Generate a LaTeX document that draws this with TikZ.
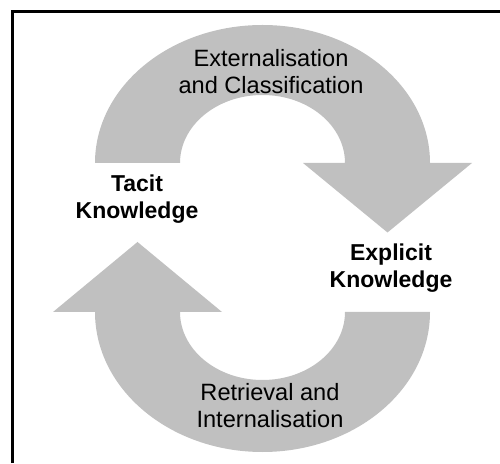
\documentclass[tikz,border=0pt]{standalone}
\usepackage{fontspec}
\setmainfont{Liberation Sans}
\definecolor{arrowgray}{RGB}{192,192,192}
\begin{document}
\begin{tikzpicture}[x=1pt,y=1pt,
  bigarrow/.style={fill=arrowgray,draw=none},
  lbl/.style={align=center,font=\fontsize{23.6}{26.7}\selectfont,inner sep=0pt,anchor=base},
  blbl/.style={lbl,font=\fontsize{23}{27.5}\selectfont\bfseries},
  frameline/.style={line width=3pt,line join=miter}]
\useasboundingbox (0,0) rectangle (500,463);
% frame (left and top lines)
\coordinate (fb) at (12.5,0);
\coordinate (fc) at (12.5,451.5);
\coordinate (fr) at (500,451.5);
\draw[frameline] (fb) -- (fc) -- (fr);
% top arrow (Tacit -> Explicit)
\fill[bigarrow] (95,300) arc[start angle=180,end angle=0,x radius=167.5,y radius=138]
  -- (472,300) -- (387.5,230.5) -- (303,300) -- (345,300)
  arc[start angle=0,end angle=180,x radius=82.5,y radius=68] -- cycle;
% bottom arrow (Explicit -> Tacit)
\fill[bigarrow] (430,151) arc[start angle=0,end angle=-180,x radius=167.5,y radius=140]
  -- (53,151) -- (137.5,221) -- (222,151) -- (180,151)
  arc[start angle=180,end angle=360,x radius=82.5,y radius=68] -- cycle;
% labels (base anchor = baseline of last line)
\node[lbl] (ext) at (271,369.7) {Externalisation\\and Classification};
\node[blbl] (tacit) at (137,244) {Tacit\\Knowledge};
\node[blbl] (expl) at (391,175) {Explicit\\Knowledge};
\node[lbl] (ret) at (270,36) {Retrieval and\\Internalisation};
\end{tikzpicture}
\end{document}
